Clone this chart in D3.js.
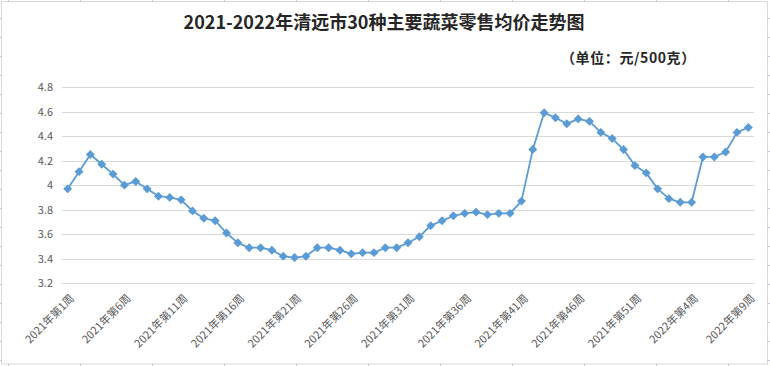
<!DOCTYPE html>
<html><head><meta charset="utf-8">
<script src="https://cdn.jsdelivr.net/npm/d3@7"></script>
<style>html,body{margin:0;padding:0;background:#fff;}svg{display:block;}</style>
</head><body>
<svg id="chart" width="770" height="366"></svg>
<script>
const title = "2021-2022年清远市30种主要蔬菜零售均价走势图";
const unitText = "（单位：元/500克）";
// categories: 2021 weeks 1-52, 2022 weeks 1-9
const categories = [];
for (let w = 1; w <= 52; w++) categories.push("2021年第" + w + "周");
for (let w = 1; w <= 9; w++) categories.push("2022年第" + w + "周");
const prices = [3.97,4.11,4.25,4.17,4.09,4.00,4.03,3.97,3.91,3.90,
                3.88,3.79,3.73,3.71,3.61,3.53,3.49,3.49,3.47,3.42,
                3.41,3.42,3.49,3.49,3.47,3.44,3.45,3.45,3.49,3.49,
                3.53,3.58,3.67,3.71,3.75,3.77,3.78,3.76,3.77,3.77,
                3.87,4.29,4.59,4.55,4.50,4.54,4.52,4.43,4.38,4.29,
                4.16,4.10,3.97,3.89,3.86,3.86,4.23,4.23,4.27,4.43,4.47];
const yTicks = [3.2,3.4,3.6,3.8,4.0,4.2,4.4,4.6,4.8];
const labelEvery = 5;

const svg = d3.select("#chart");
const plot = {left: 62, right: 754, top: 87, bottom: 283.3};

// worksheet frame
svg.append("rect").attr("x",1.5).attr("y",1.5).attr("width",766).attr("height",362.5)
  .attr("fill","#fff").attr("stroke","#d9d9d9").attr("stroke-width",1);
const frameTicks = svg.append("g").attr("stroke","#c9c9d6").attr("stroke-width",1);
d3.range(8, 770, 72).forEach(x => {
  frameTicks.append("line").attr("x1",x+0.5).attr("x2",x+0.5).attr("y1",0).attr("y2",2);
  frameTicks.append("line").attr("x1",x+0.5).attr("x2",x+0.5).attr("y1",364).attr("y2",366);
});
d3.range(18, 366, 19).forEach(y => {
  frameTicks.append("line").attr("x1",0).attr("x2",2).attr("y1",y+0.5).attr("y2",y+0.5);
  frameTicks.append("line").attr("x1",767).attr("x2",770).attr("y1",y+0.5).attr("y2",y+0.5);
});

const x = d3.scalePoint().domain(categories).range([plot.left, plot.right]).padding(0.5);
const y = d3.scaleLinear().domain([3.2, 4.8]).range([plot.bottom, plot.top]);

// gridlines
svg.append("g").selectAll("line").data(yTicks).join("line")
  .attr("x1", plot.left).attr("x2", plot.right)
  .attr("y1", d => Math.round(y(d)) + 0.5).attr("y2", d => Math.round(y(d)) + 0.5)
  .attr("stroke", "#d9d9d9").attr("stroke-width", 1);

// y axis labels
const yAxis = d3.axisLeft(y).tickValues(yTicks).tickSize(0).tickPadding(0)
  .tickFormat(d => d3.format("")(+d.toFixed(1)));
const yg = svg.append("g").attr("transform", `translate(53,0)`).call(yAxis);
yg.select(".domain").remove();
yg.selectAll("text").attr("fill", "#595959").attr("font-size", 11)
  .attr("font-family", "'Noto Sans CJK SC', 'Noto Sans', sans-serif");

// x axis labels (rotated)
const xAxis = d3.axisBottom(x).tickSize(0).tickPadding(0)
  .tickValues(categories.filter((d, i) => i % labelEvery === 0));
const xg = svg.append("g").attr("transform", `translate(0,${plot.bottom})`).call(xAxis);
xg.select(".domain").remove();
xg.selectAll(".tick text")
  .attr("fill", "#595959").attr("font-size", 11)
  .attr("font-family", "'Noto Sans CJK SC', sans-serif")
  .attr("text-anchor", "end")
  .attr("x", 0).attr("y", 0).attr("dy", "0.35em")
  .attr("transform", "translate(4,13) rotate(-45)");

// line
const line = d3.line().x((d, i) => x(categories[i])).y(d => y(d));
svg.append("path").datum(prices).attr("d", line)
  .attr("fill", "none").attr("stroke", "#5b9bd5").attr("stroke-width", 1.8)
  .attr("stroke-linejoin", "round");

// markers
svg.append("g").selectAll("path").data(prices).join("path")
  .attr("d", d3.symbol().type(d3.symbolSquare).size(26))
  .attr("transform", (d, i) => `translate(${x(categories[i])},${y(d)}) rotate(45)`)
  .attr("fill", "#5b9bd5").attr("stroke", "#5b9bd5").attr("stroke-width", 1.2);

// title
svg.append("text").attr("x", 384).attr("y", 29).attr("text-anchor", "middle")
  .attr("font-size", 18).attr("font-weight", "bold").attr("fill", "#262626")
  .attr("font-family", "'Noto Sans CJK SC', sans-serif").text(title);

// unit
svg.append("text").attr("x", 561).attr("y", 63).attr("text-anchor", "start")
  .attr("font-size", 14).attr("font-weight", "bold").attr("fill", "#262626")
  .attr("font-family", "'Noto Sans CJK SC', sans-serif")
  .attr("letter-spacing", 0.6).text(unitText);
</script>
</body></html>
